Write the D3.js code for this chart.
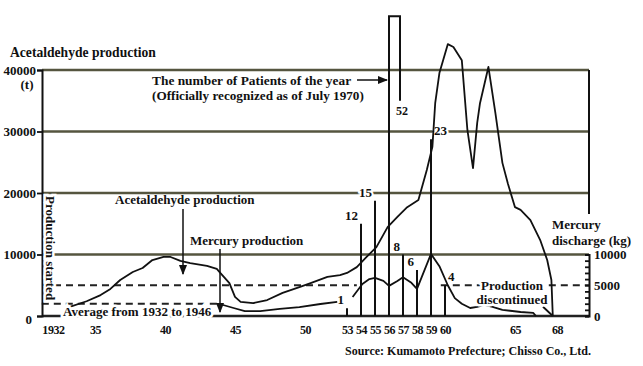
<!DOCTYPE html>
<html>
<head>
<meta charset="utf-8">
<script src="https://cdn.jsdelivr.net/npm/d3@7"></script>
<style>
  body { margin: 0; background: #fff; }
  text { font-family: "Liberation Serif", "Times New Roman", serif; font-weight: bold; fill: #111; }
</style>
</head>
<body>
<svg id="chart" width="643" height="366"></svg>
<script>
// acetaldehyde production (t), mercury discharge (kg), patients per year

var acetYears = [1933.2, 1934.4, 1935.4, 1936.1, 1936.8, 1937.7, 1938.4, 1939.1, 1939.9, 1940.4,
  1941.1, 1941.8, 1943.0, 1943.7, 1943.9, 1944.6, 1945.0, 1945.4, 1946.3, 1947.3,
  1948.4, 1949.6, 1950.4, 1951.6, 1952.5, 1953.0, 1953.7, 1954.4, 1955.1, 1955.9,
  1956.6, 1957.3, 1958.1, 1958.7, 1959.1, 1959.3, 1959.6, 1960.2, 1960.6, 1961.2,
  1961.6, 1962.0, 1962.3, 1962.5, 1963.1, 1963.6, 1964.1, 1964.5, 1965.0, 1965.4,
  1966.1, 1966.8, 1967.3, 1967.6, 1967.7];
var acetTonnes = [1500, 2400, 3400, 4400, 5850, 7150, 7800, 9100, 9600, 9600,
  8950, 8600, 8150, 7650, 7150, 5350, 3100, 2300, 2100, 2600,
  3750, 4700, 5350, 6350, 6650, 7000, 7950, 9600, 11200, 14450,
  16100, 17700, 18850, 23750, 27500, 34600, 39500, 44200, 43750, 41600,
  30250, 24050, 31400, 34600, 40500, 33000, 24900, 21450, 17700, 17250,
  15600, 12350, 9100, 5850, 0];

// null = break in the drawn line
var mercYears = [1943.9, 1944.9, 1945.7, 1946.8, 1948.2, 1949.6, 1951.1, 1952.3, null,
  1953.4, 1954.1, 1954.6, 1955.0, 1955.6, 1956.0, 1956.6, 1957.0, 1957.6, 1958.0,
  1959.0, 1959.6, 1960.2, 1960.7, 1961.2, 1961.8, 1962.3, 1962.8, 1963.4, 1964.1,
  1965.4, 1966.3, 1966.5, null, 1967.0, 1967.7];
var mercKg = [1950, 1300, 800, 800, 1150, 1450, 1950, 2300, null,
  3100, 5200, 6000, 6200, 5700, 4900, 5700, 6300, 5400, 4400,
  10100, 8100, 5000, 2900, 2000, 1300, 1500, 1800, 1500, 1000,
  650, 500, 0, null, 1500, 0];

var mercAvg = 2000;          // average 1932-1946
var mercAvgYears = [1931.2, 1943.9];
var discontinued = 5000;

var patientYears = [1953, 1954, 1955, 1956, 1957, 1958, 1959, 1960];
var patients = [1, 12, 15, 52, 8, 6, 23, 4];

var yearTicks = [1932, 1935, 1940, 1945, 1950, 1953, 1954, 1955, 1956, 1957, 1958, 1959, 1960, 1965, 1968];
var leftTicks = [0, 10000, 20000, 30000, 40000];
var rightTicks = [0, 5000, 10000];

var svg = d3.select("#chart");
var plotL = 42, plotR = 589, plotB = 316, plotT = 70;

var x = d3.scaleLinear().domain([1932, 1968]).range([53, 557]);
var yL = d3.scaleLinear().domain([0, 40000]).range([plotB, plotT]);
var yR = d3.scaleLinear().domain([0, 10000]).range([plotB, yL(10000)]);
var yP = d3.scaleLinear().domain([0, 32]).range([plotB, plotT]);

var grid = "#55553f";

svg.append("defs").append("marker")
  .attr("id", "arr").attr("viewBox", "0 0 10 10").attr("refX", 9).attr("refY", 5)
  .attr("markerWidth", 7).attr("markerHeight", 7).attr("orient", "auto-start-reverse")
  .append("path").attr("d", "M0,1L10,5L0,9z").attr("fill", "#111");

// gridlines
svg.append("g").selectAll("line").data(leftTicks.slice(1)).join("line")
  .attr("x1", plotL).attr("x2", plotR)
  .attr("y1", d => yL(d)).attr("y2", d => yL(d))
  .attr("stroke", grid).attr("stroke-width", 2.5);

// frame right border (upper part) and baseline
svg.append("line").attr("x1", plotR).attr("x2", plotR).attr("y1", plotT).attr("y2", 214)
  .attr("stroke", "#111").attr("stroke-width", 2);
svg.append("line").attr("x1", plotL).attr("x2", plotR).attr("y1", plotB).attr("y2", plotB)
  .attr("stroke", "#222").attr("stroke-width", 2.5);

// dashed reference lines
function dashed(x1, x2, yv) {
  svg.append("line").attr("x1", x1).attr("x2", x2).attr("y1", yR(yv)).attr("y2", yR(yv))
    .attr("stroke", "#222").attr("stroke-width", 2).attr("stroke-dasharray", "7,5");
}
dashed(plotL, x(1953.7), discontinued);
dashed(x(1959.7), plotR, discontinued);
dashed(x(mercAvgYears[0]), x(mercAvgYears[1]), mercAvg);

// axes
var axL = svg.append("g").attr("transform", "translate(" + plotL + ",0)")
  .call(d3.axisLeft(yL).tickValues(leftTicks).tickSize(5).tickPadding(1).tickFormat(d3.format("d")));
var axR = svg.append("g").attr("transform", "translate(" + plotR + ",0)")
  .call(d3.axisRight(yR).tickValues(rightTicks).tickSize(0).tickPadding(5).tickFormat(d3.format("d")));
var axRm = svg.append("g").attr("transform", "translate(" + plotR + ",0)")
  .call(d3.axisLeft(yR).tickValues(d3.range(0, 10001, 1000)).tickSize(4).tickFormat(""));
var axB = svg.append("g").attr("transform", "translate(0," + plotB + ")")
  .call(d3.axisBottom(x).tickValues(yearTicks).tickSize(0).tickPadding(9)
    .tickFormat(d => d === 1932 ? "1932" : String(d).slice(2)));

[axL, axR, axRm, axB].forEach(function(a) {
  a.attr("font-family", null).attr("font-size", null);
  a.selectAll("text").attr("font-size", 13);
  a.selectAll("line").attr("stroke", "#111").attr("stroke-width", 1.8);
  a.select(".domain").attr("stroke", "#111").attr("stroke-width", 2);
});
axB.selectAll("text").attr("font-size", 12).attr("letter-spacing", "-0.4");
axB.select(".domain").remove();
axR.select(".domain").remove();
axL.selectAll(".tick").filter(d => d === 0).select("text").attr("x", -10).attr("dy", "0.55em");

// patient bars
var bars = svg.append("g");
patientYears.forEach(function(yr, i) {
  var n = patients[i], bx = x(yr);
  if (n > 32) {
    // off-scale bar drawn as a broken column
    var capTop = yP(39), capSide = yP(28), w = 11;
    bars.append("path")
      .attr("d", "M" + bx + "," + plotB + "V" + capTop + "H" + (bx + w) + "V" + capSide)
      .attr("fill", "none").attr("stroke", "#111").attr("stroke-width", 2);
    bars.append("text").attr("x", bx + w + 2).attr("y", capSide + 14)
      .attr("text-anchor", "middle").attr("font-size", 12).text(n);
  } else {
    bars.append("line").attr("x1", bx).attr("x2", bx).attr("y1", plotB).attr("y2", yP(n))
      .attr("stroke", "#111").attr("stroke-width", 2);
  }
});
var labelRight = {1956: true, 1959: true, 1960: true};
patientYears.forEach(function(yr, i) {
  var n = patients[i];
  if (n > 32) return;
  var r = labelRight[yr];
  bars.append("text")
    .attr("x", x(yr) + (r ? 3 : -3)).attr("y", yP(n) - 4)
    .attr("text-anchor", r ? "start" : "end").attr("font-size", 13)
    .attr("stroke", "#fff").attr("stroke-width", 4).attr("paint-order", "stroke")
    .text(n);
});

// curves
var line = d3.line()
  .defined(d => d[0] !== null && d[1] !== null)
  .x(d => x(d[0]));

svg.append("path")
  .datum(acetYears.map((yr, i) => [yr, acetTonnes[i]]))
  .attr("d", line.y(d => yL(d[1])))
  .attr("fill", "none").attr("stroke", "#111").attr("stroke-width", 1.8)
  .attr("stroke-linejoin", "round");

svg.append("path")
  .datum(mercYears.map((yr, i) => [yr, mercKg[i]]))
  .attr("d", line.y(d => yR(d[1])))
  .attr("fill", "none").attr("stroke", "#111").attr("stroke-width", 1.8)
  .attr("stroke-linejoin", "round");

// texts
function label(tx, ty, s, opts) {
  opts = opts || {};
  var t = svg.append("text").attr("x", tx).attr("y", ty)
    .attr("font-size", opts.size || 13).attr("text-anchor", opts.anchor || "start").text(s);
  if (opts.halo) t.attr("stroke", "#fff").attr("stroke-width", 5).attr("paint-order", "stroke");
  if (opts.rotate) t.attr("transform", "rotate(90," + tx + "," + ty + ")");
  return t;
}

label(10, 57, "Acetaldehyde production", {size: 13.6});
label(27, 89, "(t)", {anchor: "middle"});
label(152, 85, "The number of Patients of the year", {size: 13.4});
label(152, 100, "(Officially recognized as of July 1970)", {size: 13.2});
label(115, 204, "Acetaldehyde production");
label(190, 245, "Mercury production");
label(63, 316, "Average from 1932 to 1946", {halo: true});
label(46, 196, "Production started", {rotate: true, halo: true});
label(512, 290, "Production", {anchor: "middle", halo: true});
label(512, 304, "discontinued", {anchor: "middle", halo: true});
label(552, 229, "Mercury", {halo: true});
label(552, 245, "discharge (kg)", {halo: true});
label(345, 355, "Source: Kumamoto Prefecture; Chisso Co., Ltd.", {size: 12});

// arrows
svg.append("line").attr("x1", 357).attr("x2", x(1956) - 2).attr("y1", 80).attr("y2", 80)
  .attr("stroke", "#111").attr("stroke-width", 1.5).attr("marker-end", "url(#arr)");
svg.append("line").attr("x1", 183).attr("x2", 183).attr("y1", 209).attr("y2", 274)
  .attr("stroke", "#111").attr("stroke-width", 1.5).attr("marker-end", "url(#arr)");
svg.append("line").attr("x1", 220).attr("x2", 220).attr("y1", 249).attr("y2", 312)
  .attr("stroke", "#111").attr("stroke-width", 1.5).attr("marker-end", "url(#arr)");
</script>
</body>
</html>
